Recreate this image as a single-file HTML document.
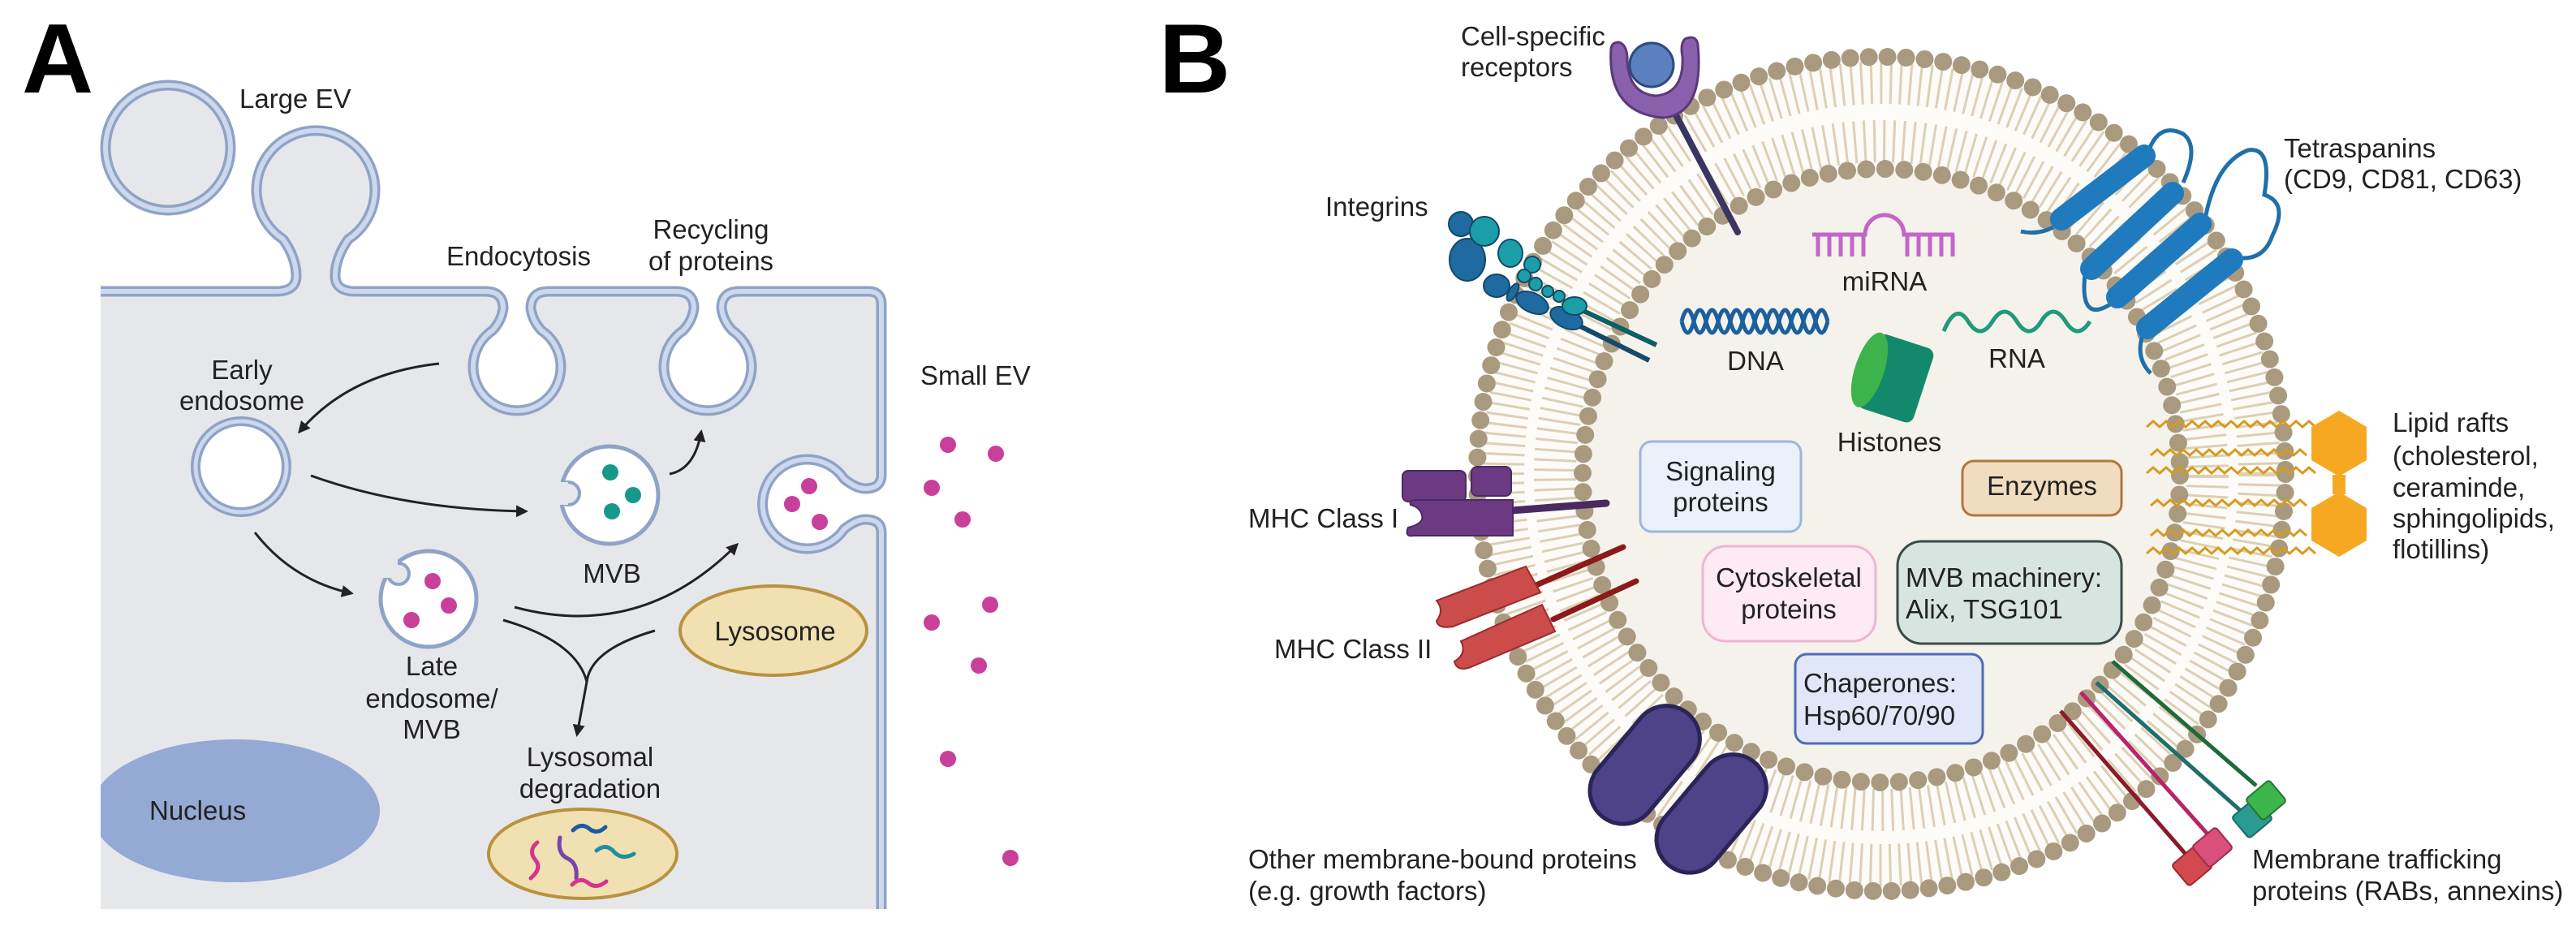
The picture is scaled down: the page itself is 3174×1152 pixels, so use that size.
<!DOCTYPE html>
<html><head><meta charset="utf-8">
<style>
html,body{margin:0;padding:0;background:#fff;}
svg{display:block;}
text{font-family:"Liberation Sans",Arial,sans-serif;fill:#222;}
</style></head>
<body>
<svg width="3174" height="1152" viewBox="0 0 3174 1152" xmlns="http://www.w3.org/2000/svg">
<defs>
<marker id="ah" viewBox="0 0 10 10" refX="8" refY="5" markerWidth="5" markerHeight="5" orient="auto-start-reverse" markerUnits="strokeWidth">
<path d="M0 0 L10 5 L0 10 z" fill="#222"/></marker>
</defs>
<rect width="3174" height="1152" fill="#fff"/>

<!-- ============ PANEL A ============ -->
<text x="27" y="114" font-size="122" font-weight="bold" style="fill:#000">A</text>

<path d="M124 359 H340 Q365 359 365 340 Q365 318 349 295 A73 73 0 1 1 429 295 Q413 318 413 340 Q413 359 438 359
H598 Q620 359 620 380 Q618 395 607 407 A54 54 0 1 0 667 407 Q656 395 654 380 Q654 359 676 359
H833 Q855 359 855 380 Q853 395 842 407 A54 54 0 1 0 902 407 Q891 395 889 380 Q889 359 911 359
H1070 Q1086 359 1086 375 V585 Q1086 602 1066 602 Q1055 602 1040 590 A55 55 0 1 0 1040 652 Q1055 640 1066 640 Q1086 640 1086 656 V1120 H124 Z" fill="#e6e7eb"/>
<clipPath id="cellclip"><rect x="124" y="359" width="962" height="761"/></clipPath>
<ellipse cx="290" cy="999" rx="178" ry="88" fill="#94a9d4" clip-path="url(#cellclip)"/>
<text x="184" y="1010" font-size="33">Nucleus</text>

<g fill="none" stroke-linejoin="round">
<path d="M124 359 H340 Q365 359 365 340 Q365 318 349 295 A73 73 0 1 1 429 295 Q413 318 413 340 Q413 359 438 359
H598 Q620 359 620 380 Q618 395 607 407 A54 54 0 1 0 667 407 Q656 395 654 380 Q654 359 676 359
H833 Q855 359 855 380 Q853 395 842 407 A54 54 0 1 0 902 407 Q891 395 889 380 Q889 359 911 359
H1070 Q1086 359 1086 375 V585 Q1086 602 1066 602 Q1055 602 1040 590 A55 55 0 1 0 1040 652 Q1055 640 1066 640 Q1086 640 1086 656 V1120" stroke="#8ea3c6" stroke-width="13"/>
<path d="M124 359 H340 Q365 359 365 340 Q365 318 349 295 A73 73 0 1 1 429 295 Q413 318 413 340 Q413 359 438 359
H598 Q620 359 620 380 Q618 395 607 407 A54 54 0 1 0 667 407 Q656 395 654 380 Q654 359 676 359
H833 Q855 359 855 380 Q853 395 842 407 A54 54 0 1 0 902 407 Q891 395 889 380 Q889 359 911 359
H1070 Q1086 359 1086 375 V585 Q1086 602 1066 602 Q1055 602 1040 590 A55 55 0 1 0 1040 652 Q1055 640 1066 640 Q1086 640 1086 656 V1120" stroke="#cdd8ec" stroke-width="6"/>
</g>
<circle cx="207" cy="182" r="77" fill="#e6e7eb" stroke="#8ea3c6" stroke-width="13"/>
<circle cx="207" cy="182" r="77" fill="none" stroke="#cdd8ec" stroke-width="6"/>
<g fill="#c8409a"><circle cx="997" cy="599" r="10"/><circle cx="976" cy="621" r="10"/><circle cx="1010" cy="643" r="10"/></g>

<circle cx="297" cy="575" r="56" fill="#fff" stroke="#8ea3c6" stroke-width="12"/>
<circle cx="297" cy="575" r="56" fill="none" stroke="#cdd8ec" stroke-width="5"/>
<circle cx="751" cy="610" r="60" fill="#fff" stroke="#8ea3c6" stroke-width="5"/>
<circle cx="700" cy="608" r="14" fill="#e6e7eb" stroke="#8ea3c6" stroke-width="4"/>
<rect x="676" y="594" width="24" height="28" fill="#e6e7eb"/>
<g fill="#17998a"><circle cx="752" cy="582" r="10"/><circle cx="780" cy="610" r="10"/><circle cx="754" cy="630" r="10"/></g>
<text x="754" y="718" font-size="33" text-anchor="middle">MVB</text>
<circle cx="528" cy="738" r="59" fill="#fff" stroke="#8ea3c6" stroke-width="5"/>
<circle cx="491" cy="707" r="13" fill="#e6e7eb" stroke="#8ea3c6" stroke-width="4"/>
<rect x="470" y="690" width="20" height="22" fill="#e6e7eb"/>
<g fill="#c8409a"><circle cx="533" cy="716" r="10"/><circle cx="553" cy="746" r="10"/><circle cx="507" cy="764" r="10"/></g>

<ellipse cx="953" cy="777" rx="115" ry="55" fill="#f1e0b2" stroke="#b8923e" stroke-width="4"/>
<text x="955" y="789" font-size="33" text-anchor="middle">Lysosome</text>
<ellipse cx="718" cy="1052" rx="116" ry="55" fill="#f1e0b2" stroke="#b8923e" stroke-width="4"/>
<g fill="none" stroke-width="5" stroke-linecap="round">
<path d="M662 1038 q-12 10 -2 22 q8 10 -6 22" stroke="#d6348e"/>
<path d="M690 1032 q-4 20 10 26 q12 6 10 24" stroke="#7a45a8"/>
<path d="M706 1023 q10 -10 20 -2 q10 8 20 -2" stroke="#1f5aa0"/>
<path d="M735 1048 q12 -10 22 2 q10 10 24 2" stroke="#1d8fa0"/>
<path d="M705 1090 q10 -10 20 -2 q10 8 22 -2" stroke="#d6348e"/>
</g>

<g fill="none" stroke="#222" stroke-width="3" marker-end="url(#ah)">
<path d="M541 448 Q430 460 369 532"/>
<path d="M383 586 Q500 628 648 630"/>
<path d="M825 584 Q856 578 864 532"/>
<path d="M314 656 Q360 715 433 731"/>
<path d="M634 748 Q790 790 908 671"/>
<path d="M807 777 Q728 800 723 840 L711 905"/>
</g>
<path d="M620 764 Q710 790 723 840" fill="none" stroke="#222" stroke-width="3"/>

<g font-size="33">
<text x="295" y="133">Large EV</text>
<text x="639" y="327" text-anchor="middle">Endocytosis</text>
<text x="876" y="294" text-anchor="middle">Recycling</text>
<text x="876" y="333" text-anchor="middle">of proteins</text>
<text x="298" y="467" text-anchor="middle">Early</text>
<text x="298" y="505" text-anchor="middle">endosome</text>
<text x="532" y="832" text-anchor="middle">Late</text>
<text x="532" y="872" text-anchor="middle">endosome/</text>
<text x="532" y="910" text-anchor="middle">MVB</text>
<text x="727" y="944" text-anchor="middle">Lysosomal</text>
<text x="727" y="983" text-anchor="middle">degradation</text>
<text x="1134" y="474">Small EV</text>
</g>
<g fill="#c8409a">
<circle cx="1168" cy="548" r="10"/><circle cx="1227" cy="559" r="10"/><circle cx="1148" cy="601" r="10"/>
<circle cx="1186" cy="640" r="10"/><circle cx="1148" cy="767" r="10"/><circle cx="1220" cy="745" r="10"/>
<circle cx="1206" cy="820" r="10"/><circle cx="1168" cy="935" r="10"/><circle cx="1245" cy="1057" r="10"/>
</g>

<!-- ============ PANEL B ============ -->
<text x="1428" y="114" font-size="122" font-weight="bold" style="fill:#000">B</text>

<ellipse cx="2318" cy="584" rx="498" ry="514" fill="#fcfbf8"/>
<ellipse cx="2318" cy="586" rx="368" ry="378" fill="#f5f2ec"/>
<ellipse cx="2318" cy="584" rx="466" ry="482" fill="none" stroke="#ddcfb4" stroke-width="52" stroke-dasharray="3 9"/>
<ellipse cx="2318" cy="586" rx="402" ry="412" fill="none" stroke="#ddcfb4" stroke-width="52" stroke-dasharray="3 9"/>
<ellipse cx="2318" cy="584" rx="498" ry="514" fill="none" stroke="#a99a7f" stroke-width="22" stroke-linecap="round" stroke-dasharray="0 23"/>
<ellipse cx="2318" cy="586" rx="368" ry="378" fill="none" stroke="#a99a7f" stroke-width="22" stroke-linecap="round" stroke-dasharray="0 23.5"/>

<line x1="2064" y1="140" x2="2141" y2="286" stroke="#3b3563" stroke-width="8" stroke-linecap="round"/>
<path d="M1985 60 Q1980 140 2050 145 Q2100 140 2092 55 Q2090 42 2076 48 Q2070 54 2073 70 Q2075 115 2040 118 Q2005 115 2005 70 Q2004 55 1995 52 Q1986 52 1985 60 Z" fill="#8a5fab" stroke="#5a3a7a" stroke-width="3"/>
<circle cx="2035" cy="80" r="27" fill="#5b80c0" stroke="#2d4a80" stroke-width="3"/>

<line x1="1951" y1="383" x2="2041" y2="425" stroke="#0e5e66" stroke-width="6"/>
<line x1="1947" y1="402" x2="2032" y2="444" stroke="#154a6e" stroke-width="6"/>
<g stroke="#0f4a6a" stroke-width="2">
<circle cx="1800" cy="276" r="15" fill="#1f6aa0"/>
<ellipse cx="1808" cy="320" rx="22" ry="26" fill="#1f6aa0"/>
<ellipse cx="1844" cy="352" rx="16" ry="14" fill="#1f6aa0"/>
<ellipse cx="1888" cy="373" rx="21" ry="12" fill="#1f6aa0" transform="rotate(25 1888 373)"/>
<ellipse cx="1930" cy="392" rx="21" ry="12" fill="#1f6aa0" transform="rotate(25 1930 392)"/>
<ellipse cx="1864" cy="360" rx="5" ry="12" fill="#1f6aa0" transform="rotate(30 1864 360)"/>
<circle cx="1829" cy="285" r="18" fill="#1b9ea8"/>
<ellipse cx="1861" cy="312" rx="15" ry="17" fill="#1b9ea8"/>
<circle cx="1888" cy="326" r="10" fill="#1b9ea8"/>
<circle cx="1878" cy="340" r="8" fill="#1b9ea8"/>
<circle cx="1892" cy="350" r="8" fill="#1b9ea8"/>
<circle cx="1907" cy="359" r="7" fill="#1b9ea8"/>
<circle cx="1921" cy="365" r="7" fill="#1b9ea8"/>
<ellipse cx="1940" cy="377" rx="15" ry="11" fill="#1b9ea8"/>
</g>

<g fill="none" stroke="#1f6fa8" stroke-width="5">
<path d="M2530 280 Q2510 290 2490 285"/>
<path d="M2647 187 Q2660 150 2690 165 Q2710 180 2690 225"/>
<path d="M2600 375 Q2560 400 2570 330"/>
<path d="M2717 270 Q2730 200 2770 185 Q2800 180 2790 240 Q2820 250 2800 290 Q2790 320 2760 318"/>
<path d="M2641 410 Q2630 440 2650 460"/>
</g>
<g stroke="#1f7bbd" stroke-width="28" stroke-linecap="round">
<line x1="2540" y1="270" x2="2642" y2="192"/>
<line x1="2577" y1="331" x2="2677" y2="238"/>
<line x1="2609" y1="366" x2="2711" y2="276"/>
<line x1="2646" y1="404" x2="2750" y2="320"/>
</g>

<g fill="none" stroke="#d79a1e" stroke-width="3">
<path d="M2645 526 l8-7 l8 7 l8-7 l8 7 l8-7 l8 7 l8-7 l8 7 l8-7 l8 7 l8-7 l8 7 l8-7 l8 7 l8-7 l8 7 l8-7 l8 7 l8-7 l8 7 l8-7 l8 7 l8-7 l8 7 l8-7 l8 7"/>
<path d="M2650 561 l8-7 l8 7 l8-7 l8 7 l8-7 l8 7 l8-7 l8 7 l8-7 l8 7 l8-7 l8 7 l8-7 l8 7 l8-7 l8 7 l8-7 l8 7 l8-7 l8 7 l8-7 l8 7 l8-7 l8 7"/>
<path d="M2645 583 l8-7 l8 7 l8-7 l8 7 l8-7 l8 7 l8-7 l8 7 l8-7 l8 7 l8-7 l8 7 l8-7 l8 7 l8-7 l8 7 l8-7 l8 7 l8-7 l8 7 l8-7 l8 7 l8-7 l8 7 l8-7 l8 7"/>
<path d="M2650 623 l8-7 l8 7 l8-7 l8 7 l8-7 l8 7 l8-7 l8 7 l8-7 l8 7 l8-7 l8 7 l8-7 l8 7 l8-7 l8 7 l8-7 l8 7 l8-7 l8 7 l8-7 l8 7 l8-7 l8 7"/>
<path d="M2650 660 l8-7 l8 7 l8-7 l8 7 l8-7 l8 7 l8-7 l8 7 l8-7 l8 7 l8-7 l8 7 l8-7 l8 7 l8-7 l8 7 l8-7 l8 7 l8-7 l8 7 l8-7 l8 7 l8-7 l8 7"/>
<path d="M2645 682 l8-7 l8 7 l8-7 l8 7 l8-7 l8 7 l8-7 l8 7 l8-7 l8 7 l8-7 l8 7 l8-7 l8 7 l8-7 l8 7 l8-7 l8 7 l8-7 l8 7 l8-7 l8 7 l8-7 l8 7 l8-7 l8 7"/>
</g>
<g fill="#f7a823">
<polygon points="2882,506 2916,526 2916,567 2882,587 2848,567 2848,526"/>
<polygon points="2882,606 2916,626 2916,666 2882,686 2848,666 2848,626"/>
<rect x="2874" y="585" width="16" height="24"/>
</g>

<line x1="1862" y1="629" x2="1979" y2="620" stroke="#4a2a60" stroke-width="9" stroke-linecap="round"/>
<g fill="#6b3a82" stroke="#4a2a60" stroke-width="2">
<rect x="1728" y="580" width="78" height="38" rx="7"/>
<rect x="1813" y="575" width="49" height="36" rx="7"/>
<path d="M1745 616 H1864 V660 H1742 Q1730 662 1735 650 Q1755 645 1752 635 Q1750 625 1738 622 Q1736 616 1745 616 Z"/>
</g>
<g stroke="#8b1a1a" stroke-width="7" stroke-linecap="round">
<line x1="1895" y1="720" x2="2000" y2="674"/>
<line x1="1914" y1="763" x2="2016" y2="716"/>
</g>
<g fill="#cc4b4b" stroke="#9a2b2b" stroke-width="2">
<path d="M1770 740 L1880 698 L1898 730 L1790 772 Q1772 775 1770 765 Q1780 752 1770 740 Z"/>
<path d="M1800 790 L1900 745 L1916 778 L1812 822 Q1795 828 1792 815 Q1808 805 1800 790 Z"/>
</g>

<g fill="#4e4288" stroke="#2b2458" stroke-width="5">
<rect x="1986" y="860" width="82" height="165" rx="41" transform="rotate(40 2027 942)"/>
<rect x="2068" y="920" width="82" height="165" rx="41" transform="rotate(40 2109 1002)"/>
</g>

<g stroke-width="5">
<line x1="2539" y1="876" x2="2698" y2="1058" stroke="#8b1a2a"/>
<line x1="2564" y1="853" x2="2724" y2="1032" stroke="#b8246a"/>
<line x1="2583" y1="841" x2="2762" y2="1000" stroke="#1f6e6a"/>
<line x1="2603" y1="815" x2="2780" y2="968" stroke="#1e6a3a"/>
</g>
<g stroke-width="2">
<rect x="2682" y="1050" width="38" height="34" rx="4" fill="#d24a50" stroke="#9a2a30" transform="rotate(-40 2701 1067)"/>
<rect x="2707" y="1027" width="38" height="34" rx="4" fill="#d9507a" stroke="#a02a50" transform="rotate(-40 2726 1044)"/>
<rect x="2756" y="991" width="38" height="34" rx="4" fill="#2a9a92" stroke="#1a6a66" transform="rotate(-40 2775 1008)"/>
<rect x="2773" y="969" width="38" height="34" rx="4" fill="#3cb64a" stroke="#1f7a2e" transform="rotate(-40 2792 986)"/>
</g>

<g fill="none" stroke="#c266c8" stroke-width="5">
<path d="M2233 289 H2298 A24 24 0 0 1 2346 289 H2408"/>
<path d="M2240 289 V316 M2254 289 V316 M2268 289 V316 M2282 289 V316 M2296 289 V316 M2350 289 V316 M2364 289 V316 M2378 289 V316 M2392 289 V316 M2406 289 V316"/>
</g>
<g fill="none" stroke="#1a5f9e" stroke-width="5">
<path d="M2072 396 q7.5 -28 15 0 t15 0 t15 0 t15 0 t15 0 t15 0 t15 0 t15 0 t15 0 t15 0 t15 0 t15 0"/>
<path d="M2072 396 q7.5 28 15 0 t15 0 t15 0 t15 0 t15 0 t15 0 t15 0 t15 0 t15 0 t15 0 t15 0 t15 0"/>
</g>
<path d="M2395 408 q15 -36 30 -12 t30 0 t30 0 t30 0 t30 0 t30 0" fill="none" stroke="#1f9a7a" stroke-width="5"/>
<g transform="translate(2332 465) rotate(18)">
<rect x="-32" y="-48" width="72" height="96" rx="10" fill="#13896b"/>
<ellipse cx="-30" cy="0" rx="18" ry="48" fill="#3db44b"/>
</g>

<g font-size="33">
<text x="2322" y="358" text-anchor="middle">miRNA</text>
<text x="2163" y="456" text-anchor="middle">DNA</text>
<text x="2485" y="453" text-anchor="middle">RNA</text>
<text x="2328" y="556" text-anchor="middle">Histones</text>
</g>

<rect x="2021" y="544" width="198" height="111" rx="14" fill="#eaf1fa" stroke="#9bb5e0" stroke-width="3"/>
<rect x="2418" y="568" width="196" height="67" rx="14" fill="#f0dcbf" stroke="#b0773d" stroke-width="3"/>
<rect x="2098" y="673" width="213" height="117" rx="28" fill="#fdeaf3" stroke="#f0b4d4" stroke-width="3"/>
<rect x="2338" y="667" width="276" height="126" rx="30" fill="#d7e5e0" stroke="#3c4a48" stroke-width="3"/>
<rect x="2212" y="806" width="231" height="110" rx="14" fill="#e1e7f8" stroke="#4f6bb8" stroke-width="3"/>
<g font-size="33">
<text x="2120" y="592" text-anchor="middle">Signaling</text>
<text x="2120" y="630" text-anchor="middle">proteins</text>
<text x="2516" y="610" text-anchor="middle">Enzymes</text>
<text x="2204" y="723" text-anchor="middle">Cytoskeletal</text>
<text x="2204" y="762" text-anchor="middle">proteins</text>
<text x="2348" y="723">MVB machinery:</text>
<text x="2348" y="762">Alix, TSG101</text>
<text x="2222" y="853">Chaperones:</text>
<text x="2222" y="893">Hsp60/70/90</text>
</g>

<g font-size="33">
<text x="1800" y="56">Cell-specific</text>
<text x="1800" y="94">receptors</text>
<text x="1633" y="266">Integrins</text>
<text x="2814" y="194">Tetraspanins</text>
<text x="2814" y="232">(CD9, CD81, CD63)</text>
<text x="2948" y="532">Lipid rafts</text>
<text x="2948" y="573">(cholesterol,</text>
<text x="2948" y="612">ceraminde,</text>
<text x="2948" y="650">sphingolipids,</text>
<text x="2948" y="688">flotillins)</text>
<text x="1538" y="650">MHC Class I</text>
<text x="1570" y="811">MHC Class II</text>
<text x="1538" y="1070">Other membrane-bound proteins</text>
<text x="1538" y="1109">(e.g. growth factors)</text>
<text x="2775" y="1070">Membrane trafficking</text>
<text x="2775" y="1109">proteins (RABs, annexins)</text>
</g>
</svg>
</body></html>
